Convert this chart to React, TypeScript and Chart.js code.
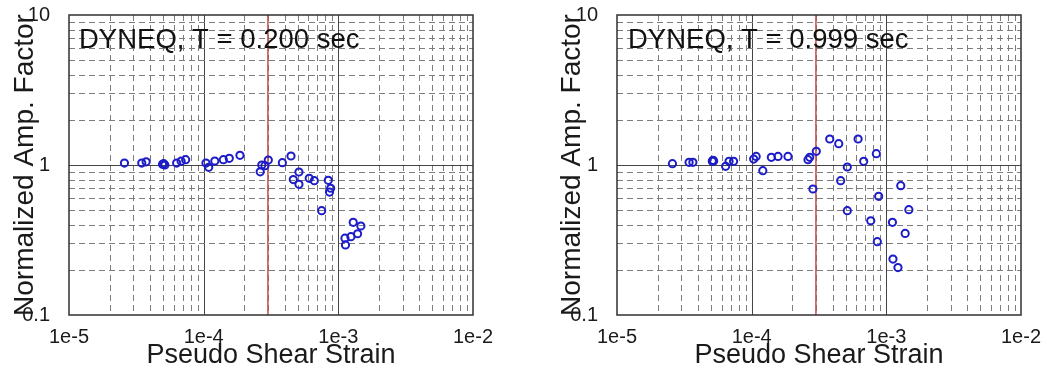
import React, { useEffect, useRef } from 'react';
import { Chart, registerables } from 'chart.js';

Chart.register(...registerables);

// ---------- data ----------
const xTickValues = [1e-5, 1e-4, 1e-3, 1e-2];
const xTickLabels = ['1e-5', '1e-4', '1e-3', '1e-2'];
const yTickValues = [0.1, 1, 10];
const yTickLabels = ['0.1', '1', '10'];
const refStrain = [3e-4];

const panelTitles = ['DYNEQ, T = 0.200 sec', 'DYNEQ, T = 0.999 sec'];
const xAxisTitle = 'Pseudo Shear Strain';
const yAxisTitle = 'Normalized Amp. Factor';

const leftStrain = [
  2.58e-5, 3.47e-5, 3.74e-5, 4.95e-5, 5.05e-5, 5.15e-5, 6.3e-5, 6.8e-5, 7.35e-5,
  1.04e-4, 1.09e-4, 1.21e-4, 1.4e-4, 1.55e-4, 1.86e-4, 2.63e-4, 2.7e-4, 2.85e-4,
  3.02e-4, 3.84e-4, 4.45e-4, 5.1e-4, 4.63e-4, 5.1e-4, 6.08e-4, 6.63e-4, 8.42e-4,
  8.77e-4, 8.6e-4, 7.52e-4, 1.29e-3, 1.47e-3, 1.39e-3, 1.24e-3, 1.12e-3, 1.13e-3,
];
const leftAmp = [
  1.03, 1.03, 1.05, 1.01, 1.02, 1.0, 1.03, 1.06, 1.085,
  1.03, 0.965, 1.063, 1.085, 1.108, 1.16, 0.9, 1.0, 0.99,
  1.08, 1.036, 1.148, 0.898, 0.8, 0.743, 0.815, 0.786, 0.79,
  0.7, 0.66, 0.496, 0.415, 0.392, 0.348, 0.333, 0.325, 0.293,
];

const rightStrain = [
  2.58e-5, 3.43e-5, 3.66e-5, 5.1e-5, 5.16e-5, 5.22e-5, 6.41e-5, 6.79e-5, 7.34e-5,
  1.035e-4, 1.08e-4, 1.21e-4, 1.4e-4, 1.57e-4, 1.86e-4, 2.62e-4, 2.7e-4, 2.85e-4,
  3.02e-4, 3.8e-4, 4.43e-4, 6.17e-4, 8.43e-4, 6.79e-4, 5.13e-4, 4.58e-4, 5.13e-4,
  7.66e-4, 8.77e-4, 8.57e-4, 1.28e-3, 1.47e-3, 1.11e-3, 1.38e-3, 1.12e-3, 1.22e-3,
];
const rightAmp = [
  1.02, 1.042, 1.042, 1.06, 1.075, 1.065, 0.98, 1.058, 1.058,
  1.096, 1.14, 0.917, 1.125, 1.14, 1.14, 1.085, 1.125, 0.692,
  1.233, 1.49, 1.388, 1.49, 1.19, 1.058, 0.97, 0.786, 0.496,
  0.425, 0.618, 0.308, 0.728, 0.504, 0.415, 0.35, 0.236, 0.207,
];

// ---------- styling ----------
const FONT = '"Liberation Sans", Arial, Helvetica, sans-serif';
const CANVAS_W = 525;
const CANVAS_H = 376;
const PLOT_TOP = 15;
const PLOT_BOTTOM = 315;
const POINT_BLUE = '#1c1cc8';

const gridPlugin = {
  id: 'logGrid',
  beforeDatasetsDraw(chart: any) {
    const { ctx, chartArea: a, scales } = chart;
    const xs = scales.x;
    const ys = scales.y;
    ctx.save();
    ctx.lineWidth = 1;
    const setStyle = (major: boolean) => {
      if (major) {
        ctx.setLineDash([]);
        ctx.strokeStyle = '#454545';
      } else {
        ctx.setLineDash([6, 4]);
        ctx.strokeStyle = '#7c7c7c';
      }
    };
    const xMinExp = Math.round(Math.log10(xs.min));
    const xMaxExp = Math.round(Math.log10(xs.max));
    for (let d = xMinExp; d < xMaxExp; d++) {
      for (let m = 1; m < 10; m++) {
        if (m === 1 && d === xMinExp) continue;
        const v = m * Math.pow(10, d);
        const px = Math.round(xs.getPixelForValue(v)) + 0.5;
        setStyle(m === 1);
        ctx.beginPath();
        ctx.moveTo(px, a.top);
        ctx.lineTo(px, a.bottom);
        ctx.stroke();
      }
    }
    const yMinExp = Math.round(Math.log10(ys.min));
    const yMaxExp = Math.round(Math.log10(ys.max));
    for (let d = yMinExp; d < yMaxExp; d++) {
      for (let m = 1; m < 10; m++) {
        if (m === 1 && d === yMinExp) continue;
        const v = m * Math.pow(10, d);
        const py = Math.round(ys.getPixelForValue(v)) + 0.5;
        setStyle(m === 1);
        ctx.beginPath();
        ctx.moveTo(a.left, py);
        ctx.lineTo(a.right, py);
        ctx.stroke();
      }
    }
    ctx.restore();
  },
  afterDraw(chart: any) {
    const { ctx, chartArea: a } = chart;
    ctx.save();
    ctx.setLineDash([]);
    ctx.strokeStyle = '#303030';
    ctx.lineWidth = 1.5;
    ctx.strokeRect(a.left, a.top, a.right - a.left, a.bottom - a.top);
    const t = chart.options.plugins.panelTitle;
    if (t && t.text) {
      ctx.fillStyle = '#111';
      ctx.font = `27.5px ${FONT}`;
      ctx.textBaseline = 'alphabetic';
      ctx.textAlign = 'left';
      ctx.fillText(t.text, a.left + t.dx, a.top + 33);
    }
    ctx.restore();
  },
};

type PanelProps = {
  strain: number[];
  amp: number[];
  title: string;
  plotLeft: number;
  plotRight: number;
  yTitlePad: number;
  titleDx: number;
};

function Panel({ strain, amp, title, plotLeft, plotRight, yTitlePad, titleDx }: PanelProps) {
  const ref = useRef<HTMLCanvasElement | null>(null);
  useEffect(() => {
    if (!ref.current) return;
    const chart = new Chart(ref.current, {
      type: 'scatter',
      data: {
        datasets: [
          {
            data: strain.map((x, i) => ({ x, y: amp[i] })),
            pointRadius: 3.6,
            pointBorderWidth: 2,
            borderColor: POINT_BLUE,
            backgroundColor: 'rgba(0,0,0,0)',
            pointBackgroundColor: 'rgba(0,0,0,0)',
            order: 1,
          },
          {
            data: [
              { x: refStrain[0], y: yTickValues[0] },
              { x: refStrain[0], y: yTickValues[yTickValues.length - 1] },
            ],
            showLine: true,
            pointRadius: 0,
            borderColor: '#c0504d',
            borderWidth: 1.5,
            order: 2,
          },
        ],
      },
      options: {
        responsive: false,
        animation: false,
        layout: { padding: { top: PLOT_TOP, right: CANVAS_W - plotRight, left: 0, bottom: 0 } },
        plugins: {
          legend: { display: false },
          tooltip: { enabled: false },
          // @ts-ignore
          panelTitle: { text: title, dx: titleDx },
        },
        scales: {
          x: {
            type: 'logarithmic',
            position: 'bottom',
            min: xTickValues[0],
            max: xTickValues[xTickValues.length - 1],
            grid: { display: false },
            border: { display: false },
            afterBuildTicks: (s: any) => {
              s.ticks = xTickValues.map((v) => ({ value: v }));
            },
            afterFit: (s: any) => {
              s.height = CANVAS_H - PLOT_BOTTOM;
              s.paddingLeft = 0;
              s.paddingRight = 0;
            },
            ticks: {
              autoSkip: false,
              maxRotation: 0,
              minRotation: 0,
              padding: 2,
              color: '#1a1a1a',
              font: { family: FONT, size: 20 },
              callback: (_v: any, i: number) => xTickLabels[i],
            },
            title: {
              display: true,
              text: xAxisTitle,
              color: '#1a1a1a',
              font: { family: FONT, size: 27, lineHeight: 1 },
              padding: { top: 0, bottom: 7 },
            },
          },
          y: {
            type: 'logarithmic',
            position: 'left',
            min: yTickValues[0],
            max: yTickValues[yTickValues.length - 1],
            grid: { display: false },
            border: { display: false },
            afterBuildTicks: (s: any) => {
              s.ticks = yTickValues.map((v) => ({ value: v }));
            },
            afterFit: (s: any) => {
              s.width = plotLeft;
              s.paddingTop = 0;
              s.paddingBottom = 0;
            },
            ticks: {
              autoSkip: false,
              padding: 11,
              color: '#1a1a1a',
              font: { family: FONT, size: 20 },
              callback: (_v: any, i: number) => yTickLabels[i],
            },
            title: {
              display: true,
              text: yAxisTitle,
              color: '#1a1a1a',
              font: { family: FONT, size: 28, lineHeight: 1 },
              padding: { top: yTitlePad, bottom: 0 },
            },
          },
        },
      } as any,
      plugins: [gridPlugin],
    });
    return () => chart.destroy();
  }, [strain, amp, title, plotLeft, plotRight, yTitlePad, titleDx]);
  return (
    <canvas
      ref={ref}
      width={CANVAS_W}
      height={CANVAS_H}
      style={{ width: CANVAS_W, height: CANVAS_H, display: 'block' }}
    />
  );
}

export default function App() {
  return (
    <div
      style={{
        position: 'absolute',
        left: 0,
        top: 0,
        width: 1050,
        height: 376,
        background: '#fff',
        display: 'flex',
        flexDirection: 'row',
      }}
    >
      <Panel
        strain={leftStrain}
        amp={leftAmp}
        title={panelTitles[0]}
        plotLeft={69}
        plotRight={473}
        yTitlePad={11}
        titleDx={10}
      />
      <Panel
        strain={rightStrain}
        amp={rightAmp}
        title={panelTitles[1]}
        plotLeft={92}
        plotRight={496}
        yTitlePad={33}
        titleDx={11}
      />
    </div>
  );
}
